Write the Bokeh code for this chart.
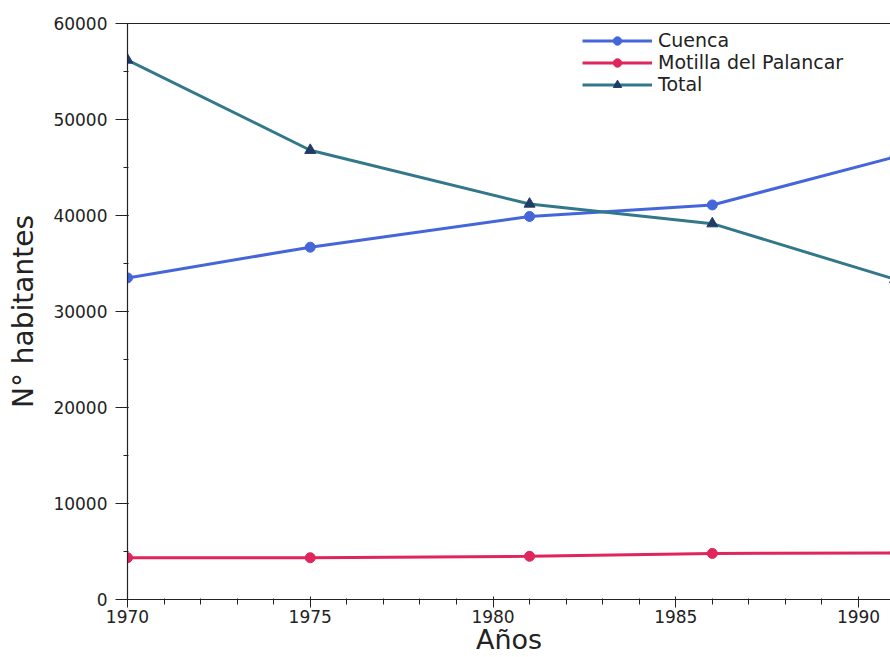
from bokeh.plotting import figure
from bokeh.models import (ColumnDataSource, Legend, LegendItem, LinearAxis,
                          SingleIntervalTicker, FixedTicker, Range1d)
from bokeh.embed import file_html
from bokeh.resources import INLINE

years = [1970, 1975, 1981, 1986, 1991]
cuenca = [33500, 36700, 39900, 41100, 46100]
motilla = [4350, 4350, 4500, 4800, 4850]
total = [56200, 46800, 41200, 39150, 33350]

series_names = ["Cuenca", "Motilla del Palancar", "Total"]
x_label = "Años"
y_label = "N° habitantes"

FONT = "DejaVu Sans"
TXT = "#222222"

src = ColumnDataSource(dict(x=years, cuenca=cuenca, motilla=motilla, total=total))

p = figure(width=890, height=657, output_backend="svg", toolbar_location=None,
           x_range=Range1d(1970, 1990.875), y_range=Range1d(0, 60000),
           min_border_left=127, min_border_right=0, min_border_top=23,
           min_border_bottom=0)
p.outline_line_color = None
p.xgrid.visible = False
p.ygrid.visible = False
p.background_fill_color = "white"

c_blue = "#4466da"
c_red = "#e0245c"
c_teal = "#33788a"
c_teal_mk = "#1f3c66"

l1 = p.line("x", "cuenca", source=src, line_color=c_blue, line_width=3)
m1 = p.scatter("x", "cuenca", source=src, marker="circle", size=10,
               fill_color=c_blue, line_color=c_blue)
l2 = p.line("x", "motilla", source=src, line_color=c_red, line_width=3)
m2 = p.scatter("x", "motilla", source=src, marker="circle", size=10,
               fill_color=c_red, line_color=c_red)
l3 = p.line("x", "total", source=src, line_color=c_teal, line_width=3)
m3 = p.scatter("x", "total", source=src, marker="triangle", size=11,
               fill_color=c_teal_mk, line_color=c_teal_mk)

# axes
xa = p.xaxis[0]
xa.ticker = SingleIntervalTicker(interval=5, num_minor_ticks=5)
xa.axis_label = x_label
ya = p.yaxis[0]
ya.ticker = SingleIntervalTicker(interval=10000, num_minor_ticks=2)
ya.axis_label = y_label
for ax in (xa, ya):
    ax.axis_line_color = TXT
    ax.axis_line_width = 1.2
    ax.major_tick_line_color = TXT
    ax.minor_tick_line_color = TXT
    ax.major_label_text_font = FONT
    ax.major_label_text_font_size = "17px"
    ax.major_label_text_color = TXT
    ax.axis_label_text_font = FONT
    ax.axis_label_text_font_style = "normal"
    ax.axis_label_text_color = TXT
ya.major_tick_out = 12
ya.major_tick_in = 1
ya.minor_tick_out = 4
ya.minor_tick_in = 1
ya.major_label_standoff = 8
ya.axis_label_text_font_size = "28px"
ya.axis_label_standoff = 10
xa.major_tick_out = 8
xa.major_tick_in = 3
xa.minor_tick_out = 5
xa.minor_tick_in = 1
xa.major_label_standoff = 2
xa.axis_label_text_font_size = "27px"
xa.axis_label_standoff = -2
ya.formatter.use_scientific = False

top = LinearAxis(ticker=FixedTicker(ticks=[]), axis_line_color=TXT,
                 axis_line_width=1.2, major_tick_out=0, major_tick_in=0,
                 minor_tick_out=0, minor_tick_in=0)
p.add_layout(top, "above")

legend = Legend(items=[
    LegendItem(label=series_names[0], renderers=[l1, m1]),
    LegendItem(label=series_names[1], renderers=[l2, m2]),
    LegendItem(label=series_names[2], renderers=[l3, m3]),
], location=(455, 504))
legend.background_fill_alpha = 0
legend.border_line_color = None
legend.padding = 0
legend.margin = 0
legend.spacing = 0
legend.glyph_width = 70
legend.glyph_height = 21
legend.label_height = 21
legend.label_standoff = 6
legend.label_text_font = FONT
legend.label_text_font_size = "19px"
legend.label_text_color = TXT
p.add_layout(legend, "center")

open("out.html", "w").write(file_html(p, INLINE))
